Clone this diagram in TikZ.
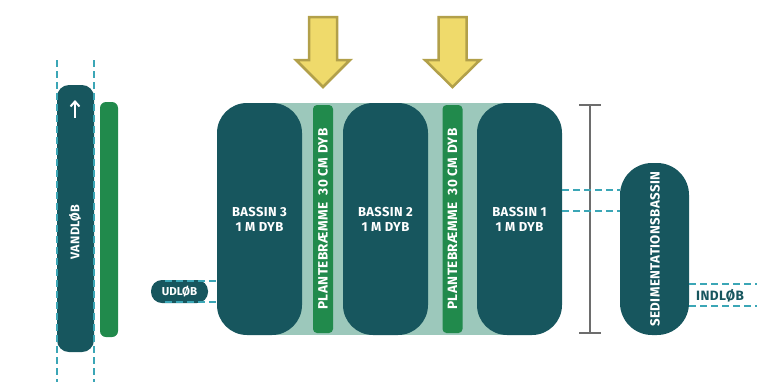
\documentclass[tikz,border=0pt]{standalone}
\usepackage{fontspec}
\setmainfont{Fira Sans}[BoldFont={Fira Sans Bold}]
\newfontfamily\lbf{Fira Sans Bold}[LetterSpace=3]
\usetikzlibrary{calc,arrows.meta}
\definecolor{teal}{HTML}{17565E}
\definecolor{grn}{HTML}{218A4C}
\definecolor{lgrn}{HTML}{9CC8BB}
\definecolor{dsh}{HTML}{3BA6B6}
\definecolor{yfill}{HTML}{EFDA6B}
\definecolor{yline}{HTML}{B2A04A}
\definecolor{barg}{HTML}{6D6D6D}
\tikzset{
  bassin/.style={fill=teal, rounded corners=30pt, text=white, font=\lbf\fontsize{13}{15}\selectfont, align=center, inner sep=0pt, minimum width=85pt, minimum height=232pt},
  strip/.style={fill=grn, rounded corners=4pt, inner sep=0pt, minimum width=20pt, minimum height=228pt},
  striptxt/.style={text=white, font=\lbf\fontsize{13.5}{15}\selectfont, rotate=90},
  dashline/.style={draw=dsh, line width=1.5pt, dash pattern=on 7pt off 4pt},
  yarrow/.style={fill=yfill, draw=yline, line width=2.5pt, line join=miter},
}
\begin{document}
\begin{tikzpicture}[x=1pt,y=-1pt]
\useasboundingbox (0,0) rectangle (778,389);
% light band
\fill[lgrn] (262,103) rectangle (518,335);
% bassins
\node[bassin] (b3) at (259.5,219) {BASSIN 3\\1 M DYB};
\node[bassin] (b2) at (385.5,219) {BASSIN 2\\1 M DYB};
\node[bassin] (b1) at (519.5,219) {BASSIN 1\\1 M DYB};
% plant strips
\node[strip] (s1) at (323,219) {};
\node[strip] (s2) at (452.5,219) {};
\node[striptxt] (t1) at (s1) {PLANTEBRÆMME\ \ 30 CM DYB};
\node[striptxt] (t2) at (s2) {PLANTEBRÆMME\ \ 30 CM DYB};
% yellow arrows
\draw[yarrow] (309,17) -- (337,17) -- (337,60) -- (350,60) -- (323,87) -- (296,60) -- (309,60) -- cycle;
\draw[yarrow] (438.5,17) -- (466.5,17) -- (466.5,60) -- (480,60) -- (452.5,87) -- (425,60) -- (438.5,60) -- cycle;
% vandlob
\node[fill=teal, rounded corners=12pt, minimum width=37pt, minimum height=267pt, inner sep=0pt] (v) at (75.5,218.5) {};
\node[text=white, font=\lbf\fontsize{12.5}{14}\selectfont, rotate=90] (vt) at (75,232) {VANDLØB};
\coordinate (va) at (75,118);
\coordinate (vb) at (75,100);
\draw[white, line width=2pt, -{Straight Barb[length=5pt,width=9pt]}] (va) -- (vb);
\coordinate (d1a) at (57,60); \coordinate (d1b) at (57,382);
\coordinate (d2a) at (94,60); \coordinate (d2b) at (94,382);
\draw[dashline] (d1a) -- (d1b);
\draw[dashline] (d2a) -- (d2b);
\node[fill=grn, rounded corners=6pt, minimum width=18pt, minimum height=235pt, inner sep=0pt] (vg) at (109,219.5) {};
% udlob
\node[fill=teal, rounded corners=11pt, minimum width=57pt, minimum height=23pt, inner sep=0pt, text=white, font=\bfseries\fontsize{11.5}{14}\selectfont] (ud) at (179.5,291.5) {UDLØB};
\coordinate (u1) at (165,281); \coordinate (u2) at (165,302);
\draw[dashline] (u1) -- (u1 -| b3.west);
\draw[dashline] (u2) -- (u2 -| b3.west);
% scale bar
\coordinate (sa) at (590,105); \coordinate (sb) at (590,333);
\draw[barg, line width=2pt] (sa) -- (sb);
\draw[barg, line width=2pt] ($(sa)+(-11,0)$) -- ($(sa)+(11,0)$);
\draw[barg, line width=2pt] ($(sb)+(-11,0)$) -- ($(sb)+(11,0)$);
% sedimentation
\node[fill=teal, rounded corners=32pt, minimum width=69pt, minimum height=172pt, inner sep=0pt] (sed) at (654.5,249) {};
\node[text=white, font=\lbf\fontsize{13.3}{15}\selectfont, rotate=90] (sedt) at (655,249) {SEDIMENTATIONSBASSIN};
\coordinate (c1) at (0,190); \coordinate (c2) at (0,211);
\draw[dashline] (b1.east |- c1) -- (sed.west |- c1);
\draw[dashline] (b1.east |- c2) -- (sed.west |- c2);
% indlob
\coordinate (i1) at (757,284); \coordinate (i2) at (757,306);
\draw[dashline] (sed.east |- i1) -- (i1);
\draw[dashline] (sed.east |- i2) -- (i2);
\node[text=teal, font=\lbf\fontsize{13.5}{15}\selectfont] (ind) at (720,296) {INDLØB};
\end{tikzpicture}
\end{document}
